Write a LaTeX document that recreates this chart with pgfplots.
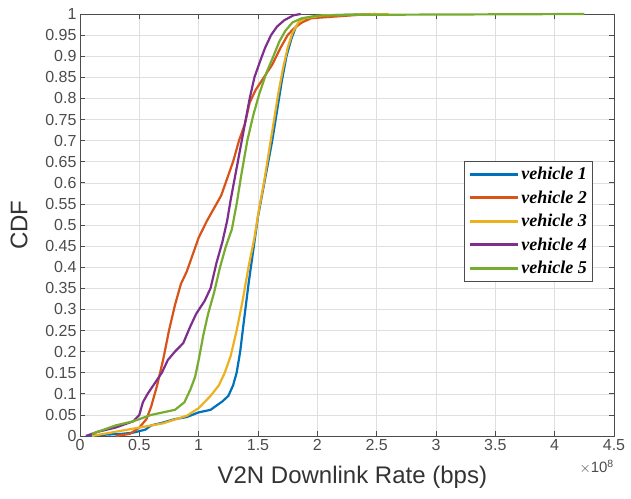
\documentclass[border=0pt]{standalone}
\usepackage{pgfplots}
\pgfplotsset{compat=1.18}
\usepackage{fontspec}
\setmainfont{Liberation Sans}
\newfontfamily\legfont{Liberation Serif}
\definecolor{mblue}{rgb}{0,0.447,0.741}
\definecolor{morange}{rgb}{0.85,0.325,0.098}
\definecolor{myellow}{rgb}{0.929,0.694,0.125}
\definecolor{mpurple}{rgb}{0.494,0.184,0.556}
\definecolor{mgreen}{rgb}{0.466,0.674,0.188}
\definecolor{tickgray}{gray}{0.3}
\begin{document}
\begin{tikzpicture}
\begin{axis}[
  scale only axis, width=534pt, height=422pt,
  xmin=0, xmax=4.5, ymin=0, ymax=1,
  xtick={0,0.5,...,4.5},
  ytick={0,0.05,...,1.0001},
  /pgf/number format/assume math mode=true,
  yticklabel style={/pgf/number format/.cd, fixed, precision=2},
  xticklabel style={/pgf/number format/.cd, fixed, precision=1},
  tick label style={font=\fontsize{16}{18}\selectfont, text=tickgray},
  grid=major,
  major grid style={gray!25, line width=0.6pt},
  axis line style={gray!60!black, line width=0.8pt},
  tick style={gray!60!black, line width=0.8pt},
  tick align=inside,
  major tick length=5pt,
  xlabel={V2N Downlink Rate (bps)},
  ylabel={CDF},
  label style={font=\fontsize{24}{28}\selectfont, text=black!80},
  xlabel style={at={(axis description cs:0.51,-0.097)}, anchor=center},
  ylabel style={at={(axis description cs:-0.114,0.5)}, anchor=center},
  legend style={at={(0.961,0.652)}, anchor=north east, font=\legfont\bfseries\itshape\fontsize{18}{20}\selectfont, draw=gray!60!black, line width=0.8pt, row sep=5.5pt, inner sep=4pt},
  legend cell align=left,
  legend image code/.code={\draw[#1, line width=2.6pt] (0cm,0cm) -- (1.7cm,0cm);},
  every axis plot/.append style={line width=2.2pt},
  clip=false,
]
\addplot[mblue] coordinates {(0.05,0) (0.2,0.003) (0.35,0.005) (0.45,0.008) (0.55,0.015) (0.6,0.025) (0.7,0.032) (0.8,0.04) (0.9,0.045) (1.0,0.056) (1.1,0.062) (1.2,0.082) (1.25,0.095) (1.29,0.12) (1.32,0.15) (1.35,0.2) (1.38,0.27) (1.42,0.36) (1.46,0.44) (1.5,0.52) (1.54,0.58) (1.58,0.64) (1.62,0.7) (1.66,0.77) (1.7,0.84) (1.74,0.9) (1.78,0.94) (1.82,0.97) (1.87,0.985) (1.95,0.993) (2.1,0.997) (2.5,1)};
\addlegendentry{vehicle 1}
\addplot[morange] coordinates {(0.3,0) (0.42,0.005) (0.5,0.02) (0.56,0.04) (0.6,0.07) (0.65,0.12) (0.7,0.18) (0.75,0.25) (0.8,0.31) (0.85,0.36) (0.9,0.39) (0.95,0.43) (1.0,0.47) (1.07,0.51) (1.13,0.54) (1.19,0.57) (1.24,0.61) (1.29,0.65) (1.34,0.7) (1.39,0.74) (1.43,0.79) (1.48,0.82) (1.55,0.85) (1.62,0.88) (1.69,0.92) (1.75,0.95) (1.8,0.965) (1.87,0.98) (1.95,0.99) (2.2,0.995) (2.45,1)};
\addlegendentry{vehicle 2}
\addplot[myellow] coordinates {(0.1,0) (0.3,0.01) (0.5,0.02) (0.7,0.03) (0.9,0.048) (1.0,0.066) (1.1,0.095) (1.17,0.12) (1.22,0.15) (1.27,0.19) (1.32,0.25) (1.37,0.32) (1.42,0.4) (1.47,0.47) (1.51,0.54) (1.55,0.6) (1.59,0.67) (1.63,0.74) (1.67,0.81) (1.71,0.87) (1.75,0.92) (1.79,0.955) (1.84,0.98) (1.9,0.99) (2.05,0.997) (2.6,1)};
\addlegendentry{vehicle 3}
\addplot[mpurple] coordinates {(0.05,0) (0.15,0.01) (0.3,0.02) (0.45,0.035) (0.5,0.05) (0.53,0.08) (0.57,0.1) (0.63,0.125) (0.69,0.15) (0.74,0.18) (0.8,0.2) (0.87,0.22) (0.93,0.26) (0.98,0.29) (1.05,0.32) (1.1,0.35) (1.15,0.41) (1.2,0.46) (1.24,0.51) (1.27,0.56) (1.31,0.62) (1.35,0.68) (1.39,0.74) (1.43,0.8) (1.47,0.85) (1.52,0.89) (1.56,0.92) (1.61,0.95) (1.66,0.97) (1.72,0.985) (1.8,0.997) (1.86,1)};
\addlegendentry{vehicle 4}
\addplot[mgreen] coordinates {(0.1,0.005) (0.2,0.015) (0.3,0.025) (0.45,0.035) (0.6,0.05) (0.8,0.062) (0.88,0.08) (0.93,0.11) (0.97,0.14) (1.0,0.18) (1.04,0.24) (1.08,0.29) (1.13,0.34) (1.18,0.4) (1.23,0.45) (1.28,0.49) (1.32,0.55) (1.36,0.62) (1.41,0.7) (1.46,0.76) (1.51,0.81) (1.57,0.86) (1.63,0.9) (1.68,0.935) (1.73,0.96) (1.79,0.98) (1.87,0.99) (2.0,0.996) (2.3,0.998) (4.25,1)};
\addlegendentry{vehicle 5}
\node[anchor=north east, font=\fontsize{15}{17}\selectfont, text=tickgray, inner sep=0pt] at (rel axis cs:1,0) [yshift=-24pt] {$\times$10\textsuperscript{8}};
\end{axis}
\useasboundingbox (-80pt,-62pt) rectangle (551pt,436pt);
\end{tikzpicture}
\end{document}
